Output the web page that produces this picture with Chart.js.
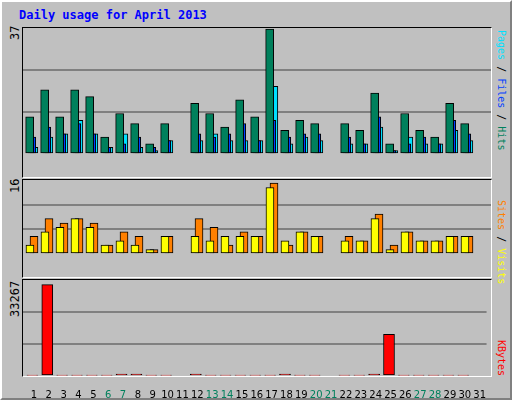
<!DOCTYPE html>
<html>
<head>
<meta charset="utf-8">
<script src="https://cdn.jsdelivr.net/npm/chart.js@4/dist/chart.umd.min.js"></script>
<style>
  body { margin: 0; background: #fff; }
  #frame { position: absolute; left: 0; top: 0; width: 508px; height: 396px; background: #C0C0C0;
           border: 2px solid; border-color: #fff #808080 #808080 #fff; }
  .panel { position: absolute; left: 22px; width: 468px; background: #C0C0C0;
           border-top: 1px solid #000; border-left: 1px solid #000; border-right: 1px solid #fff; border-bottom: 1px solid #fff; }
  canvas { position: absolute; }
  .t { position: absolute; font-family: "DejaVu Sans Mono", monospace; font-size: 12px; white-space: nowrap; }
  .s { font-size: 10px; }
  .rot { transform-origin: 0 0; }
</style>
</head>
<body>
<div id="frame"></div>
<div class="panel" style="top:27px;height:149px"></div>
<div class="panel" style="top:179px;height:97px"></div>
<div class="panel" style="top:279px;height:96px"></div>
<div class="t" style="left:19px;top:8px;color:#0000FF;font-weight:bold">Daily usage for April 2013</div>
<div class="t rot" style="left:8px;top:40px;transform:rotate(-90deg)">37</div>
<div class="t rot" style="left:8px;top:193px;transform:rotate(-90deg)">16</div>
<div class="t rot" style="left:8px;top:317px;transform:rotate(-90deg)">33267</div>
<div class="t s rot" style="left:507px;top:30px;transform:rotate(90deg)"><span style="color:#00E0FF">Pages</span> / <span style="color:#0040FF">Files</span> / <span style="color:#00805C">Hits</span></div>
<div class="t s rot" style="left:507px;top:200px;transform:rotate(90deg)"><span style="color:#FF8000">Sites</span> / <span style="color:#FFFF00">Visits</span></div>
<div class="t s rot" style="left:507px;top:340px;transform:rotate(90deg)"><span style="color:#FF0000">KBytes</span></div>
<canvas id="c1" style="left:23px;top:28px;width:468px;height:148px"></canvas>
<canvas id="c2" style="left:23px;top:180px;width:468px;height:96px"></canvas>
<canvas id="c3" style="left:23px;top:280px;width:468px;height:118px"></canvas>
<script>
// ---------- Data ----------
const days = [1,2,3,4,5,6,7,8,9,10,11,12,13,14,15,16,17,18,19,20,21,22,23,24,25,26,27,28,29,30,31];
const weekends = [6,7,13,14,20,21,27,28];
const hits   = [11,19,11,19,17,5,12,9,3,9,0,15,12,8,16,11,37,7,10,9,0,9,7,18,3,12,7,5,15,9,0];
const files  = [5,8,6,9,6,2,3,5,2,4,0,6,5,6,9,4,10,5,6,6,0,5,3,11,1,3,5,3,10,6,0];
const pages  = [2,5,6,10,6,2,6,2,1,4,0,4,6,4,4,4,20,3,5,4,0,3,3,8,1,5,3,3,7,4,0];
const visits = [2,5,6,8,6,2,3,2,1,4,0,4,3,4,4,4,15,3,5,4,0,3,3,8,1,5,3,3,4,4,0];
const sites  = [4,8,7,8,7,2,5,4,1,4,0,8,6,2,5,4,16,2,5,4,0,4,3,9,2,5,3,3,4,4,0];
const kbytes = [300,33267,300,300,300,300,700,700,300,300,0,700,300,300,300,300,300,700,300,300,0,300,300,700,15200,300,300,300,300,300,0];

const xMin = 1 - 11 / 15, xMax = xMin + 468 / 15;

function pts(values, offset) {
    return values.map((v, i) => ({ x: days[i] + offset, y: v }));
}

function ds(values, offset, color, order, width) {
    return {
        data: pts(values, offset),
        backgroundColor: color,
        borderColor: "#000",
        borderWidth: 1,
        borderSkipped: false,
        barThickness: width,
        grouped: false,
        order: order
    };
}

function thirds(max) {
    return (axis) => { axis.ticks = [0, max / 3, 2 * max / 3, max].map(v => ({ value: v })); };
}

function makeChart(id, datasets, yMax, showX) {
    return new Chart(document.getElementById(id), {
        type: "bar",
        data: { datasets: datasets },
        options: {
            responsive: false,
            animation: false,
            layout: { padding: 0 },
            plugins: { legend: { display: false }, tooltip: { enabled: false } },
            scales: {
                x: {
                    type: "linear", min: xMin, max: xMax, offset: false,
                    display: showX,
                    grid: { display: false },
                    border: { display: false },
                    afterBuildTicks: (axis) => { axis.ticks = days.map(d => ({ value: d })); },
                    afterFit: (axis) => { axis.height = 22; },
                    ticks: {
                        autoSkip: false, maxRotation: 0, padding: 5,
                        font: { family: "DejaVu Sans", size: 10 },
                        color: (ctx) => weekends.includes(ctx.tick.value) ? "#00805C" : "#000"
                    }
                },
                y: {
                    min: 0, max: yMax,
                    afterBuildTicks: thirds(yMax),
                    ticks: { display: false },
                    border: { display: false },
                    grid: { color: (ctx) => (ctx.index === 1 || ctx.index === 2) ? "#808080" : "rgba(0,0,0,0)", lineWidth: 2, drawTicks: false }
                }
            }
        }
    });
}

[["c1",148],["c2",96],["c3",118]].forEach(([id,h]) => {
    const c = document.getElementById(id); c.width = 468; c.height = h;
});

makeChart("c1", [
    ds(hits, -0.29, "#00805C", 1, 8),
    ds(files, -0.15, "#0040FF", 2, 8),
    ds(pages, -0.01, "#00E0FF", 3, 8)
], 37.3, false);

makeChart("c2", [
    ds(visits, -0.27, "#FFFF00", 1, 8),
    ds(sites, 0.0, "#FF8000", 2, 8)
], 16.7, false);

makeChart("c3", [
    ds(kbytes, -0.1, "#FF0000", 1, 11)
], 34940, true);
</script>
</body>
</html>
